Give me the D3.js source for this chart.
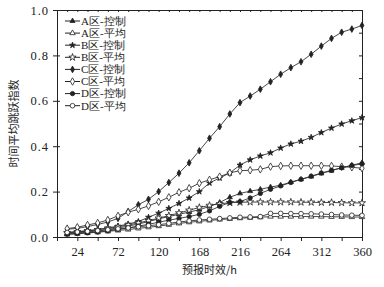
<!DOCTYPE html>
<html>
<head>
<meta charset="utf-8">
<script src="https://cdn.jsdelivr.net/npm/d3@7"></script>
<style>
body { margin: 0; background: #fff; }
svg text { fill: #222; }
.num { font-family: "Liberation Serif", "DejaVu Serif", serif; font-size: 12.5px; }
.cjk { font-family: "Noto Sans CJK SC", sans-serif; font-size: 11px; }
</style>
</head>
<body>
<div id="chart"></div>
<script>
// forecast hours, 12h steps
var hours = d3.range(12, 361, 12);
var xTicks = [24, 72, 120, 168, 216, 264, 312, 360];
var yTicks = [0, 0.2, 0.4, 0.6, 0.8, 1.0];

var seriesNames = ["A区-控制", "A区-平均", "B区-控制", "B区-平均", "C区-控制", "C区-平均", "D区-控制", "D区-平均"];

var aCtrl = [0.015,0.018,0.022,0.027,0.033,0.040,0.048,0.057,0.068,0.080,0.090,0.100,0.110,0.120,0.135,0.152,0.175,0.192,0.202,0.210,0.220,0.228,0.242,0.254,0.266,0.280,0.292,0.305,0.316,0.327];
var aMean = [0.012,0.015,0.018,0.021,0.025,0.029,0.033,0.038,0.043,0.048,0.054,0.060,0.065,0.069,0.073,0.077,0.080,0.083,0.085,0.087,0.090,0.090,0.090,0.090,0.090,0.090,0.089,0.089,0.088,0.088];
var bCtrl = [0.020,0.024,0.028,0.033,0.040,0.048,0.057,0.068,0.087,0.105,0.126,0.148,0.172,0.200,0.238,0.260,0.282,0.317,0.340,0.357,0.371,0.392,0.410,0.422,0.439,0.460,0.480,0.498,0.512,0.526];
var bMean = [0.018,0.022,0.027,0.032,0.038,0.045,0.053,0.062,0.072,0.083,0.094,0.106,0.118,0.130,0.139,0.146,0.151,0.153,0.154,0.154,0.154,0.154,0.154,0.153,0.153,0.152,0.152,0.151,0.150,0.150];
var cCtrl = [0.034,0.038,0.046,0.055,0.066,0.082,0.112,0.142,0.166,0.200,0.240,0.281,0.327,0.380,0.435,0.486,0.542,0.592,0.621,0.651,0.684,0.717,0.746,0.772,0.805,0.841,0.875,0.902,0.916,0.932];
var cMean = [0.037,0.043,0.053,0.062,0.075,0.093,0.109,0.122,0.137,0.155,0.175,0.197,0.215,0.237,0.252,0.266,0.283,0.292,0.294,0.298,0.310,0.313,0.314,0.314,0.314,0.314,0.313,0.310,0.307,0.303];
var dCtrl = [0.012,0.015,0.018,0.022,0.027,0.033,0.040,0.048,0.056,0.065,0.074,0.082,0.090,0.100,0.115,0.135,0.152,0.156,0.172,0.192,0.210,0.225,0.240,0.254,0.268,0.282,0.294,0.305,0.315,0.322];
var dMean = [0.020,0.022,0.025,0.028,0.032,0.036,0.040,0.045,0.050,0.054,0.060,0.066,0.071,0.075,0.078,0.081,0.084,0.087,0.088,0.090,0.104,0.104,0.103,0.103,0.102,0.101,0.099,0.097,0.096,0.095];

var allValues = [aCtrl, aMean, bCtrl, bMean, cCtrl, cMean, dCtrl, dMean];
var symbols = [d3.symbolTriangle, d3.symbolTriangle, d3.symbolStar, d3.symbolStar, d3.symbolDiamond, d3.symbolDiamond, d3.symbolCircle, d3.symbolCircle];
var filled = [true, false, true, false, true, false, true, false];
var symSize = [11, 13, 11, 16, 13, 16, 15, 17];

var margin = { top: 10, right: 22, bottom: 50, left: 57 },
    width = 384 - margin.left - margin.right,
    height = 287 - margin.top - margin.bottom;

var svg = d3.select("#chart").append("svg")
    .attr("width", 384)
    .attr("height", 287)
    .append("g")
    .attr("transform", "translate(" + margin.left + "," + margin.top + ")");

var xScale = d3.scaleLinear().domain([0, 360]).range([0, width]);
var yScale = d3.scaleLinear().domain([0, 1]).range([height, 0]);

// bottom axis: ticks every 24, labels every 48
svg.append("g")
    .attr("transform", "translate(0," + height + ")")
    .call(d3.axisBottom(xScale).tickValues(d3.range(0, 361, 24)).tickSize(4).tickSizeOuter(0)
        .tickFormat(function(d) { return xTicks.indexOf(d) >= 0 ? d : ""; }))
    .call(function(g) {
        g.select(".domain").attr("stroke", "#222");
        g.selectAll("text").attr("class", "num").attr("dy", "0.95em");
    });

// top axis: small inward ticks
svg.append("g")
    .call(d3.axisBottom(xScale).tickValues(d3.range(0, 361, 12)).tickSize(2).tickSizeOuter(0).tickFormat(""))
    .call(function(g) { g.select(".domain").attr("stroke", "#222"); });

// left axis
svg.append("g")
    .call(d3.axisLeft(yScale).tickValues(yTicks).tickSize(4).tickSizeOuter(0).tickFormat(d3.format(".1f")))
    .call(function(g) {
        g.select(".domain").attr("stroke", "#222");
        g.selectAll("text").attr("class", "num").attr("x", -8).style("letter-spacing", "1px");
        g.selectAll(".tick line").attr("x2", -4).attr("x1", 3);
    });

// right axis: inward ticks every 0.1
svg.append("g")
    .attr("transform", "translate(" + width + ",0)")
    .call(d3.axisLeft(yScale).tickValues(d3.range(0, 1.01, 0.1)).tickSize(3).tickSizeOuter(0).tickFormat(""))
    .call(function(g) { g.select(".domain").attr("stroke", "#222"); });

svg.selectAll(".tick line").attr("stroke", "#222");

var line = d3.line()
    .x(function(d, i) { return xScale(hours[i]); })
    .y(function(d) { return yScale(d); });

allValues.forEach(function(vals, k) {
    svg.append("path")
        .datum(vals)
        .attr("d", line)
        .attr("fill", "none")
        .attr("stroke", "#333")
        .attr("stroke-width", 0.9);
});

allValues.forEach(function(vals, k) {
    svg.selectAll(".pt" + k)
        .data(vals)
        .enter().append("path")
        .attr("transform", function(d, i) { return "translate(" + xScale(hours[i]) + "," + yScale(d) + ")"; })
        .attr("d", d3.symbol().type(symbols[k]).size(symSize[k]))
        .attr("fill", filled[k] ? "#222" : "#fff")
        .attr("stroke", "#222")
        .attr("stroke-width", 0.8);
});

// legend
var legend = svg.append("g").attr("transform", "translate(8,11)");
seriesNames.forEach(function(name, k) {
    var row = legend.append("g").attr("transform", "translate(0," + (k * 12.1) + ")");
    row.append("line").attr("x1", 0).attr("x2", 15).attr("y1", 0).attr("y2", 0)
        .attr("stroke", "#222").attr("stroke-width", 1);
    row.append("path")
        .attr("transform", "translate(7.5,0)")
        .attr("d", d3.symbol().type(symbols[k]).size(symSize[k]))
        .attr("fill", filled[k] ? "#222" : "#fff")
        .attr("stroke", "#222").attr("stroke-width", 0.8);
    row.append("text")
        .attr("x", 16).attr("y", 0).attr("dy", "0.35em")
        .attr("class", "num")
        .style("font-size", "11px")
        .text(name);
});

// axis titles
svg.append("text")
    .attr("class", "cjk")
    .attr("x", xScale(180)).attr("y", height + 37)
    .attr("text-anchor", "middle")
    .text("预报时效/h");

svg.append("text")
    .attr("class", "cjk")
    .attr("transform", "translate(-39," + (height / 2) + ") rotate(-90)")
    .attr("text-anchor", "middle")
    .text("时间平均跳跃指数");
</script>
</body>
</html>
